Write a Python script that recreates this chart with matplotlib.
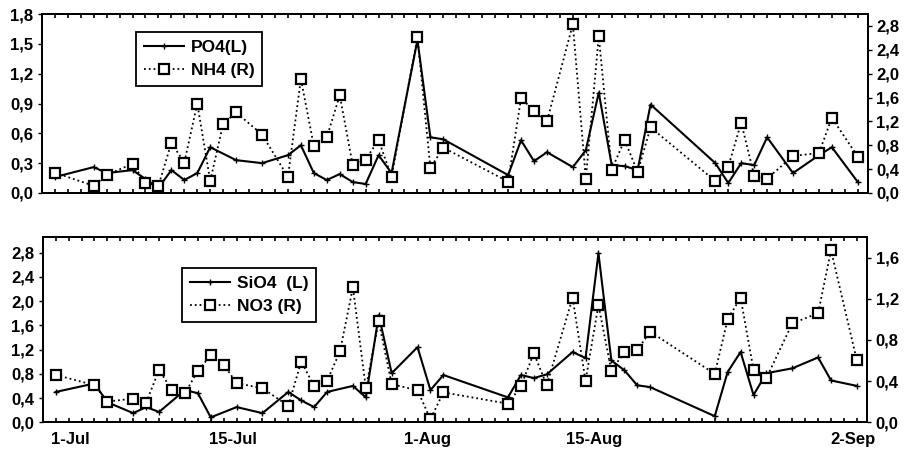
import numpy as np
import matplotlib.pyplot as plt
from matplotlib.ticker import FixedLocator, FuncFormatter

plt.rcParams['font.family'] = ['Liberation Sans', 'DejaVu Sans']
plt.rcParams['font.size'] = 12
plt.rcParams['font.weight'] = 'bold'

# x = sample index along the category axis
xlabels = ['1-Jul', '15-Jul', '1-Aug', '15-Aug', '2-Sep']
xlabel_pos = [2.1, 14.7, 29.8, 42.7, 62.7]

# top panel
po4_x = [1, 4, 5, 7, 8, 9, 10, 11, 12, 13, 15, 17, 19, 20, 21, 22, 23, 24, 25, 26, 27,
         29, 30, 31, 36, 37, 38, 39, 41, 42, 43, 44, 45, 46, 47, 52, 53, 54, 55, 56,
         58, 60, 61, 63]
po4 = [0.16, 0.26, 0.20, 0.23, 0.14, 0.05, 0.23, 0.13, 0.20, 0.46, 0.33, 0.30, 0.38,
       0.48, 0.20, 0.13, 0.19, 0.11, 0.09, 0.38, 0.20, 1.54, 0.56, 0.54, 0.18, 0.53,
       0.32, 0.41, 0.26, 0.43, 1.01, 0.28, 0.27, 0.23, 0.89, 0.30, 0.10, 0.30, 0.28,
       0.56, 0.20, 0.38, 0.46, 0.11]
nh4_x = [1, 4, 5, 7, 8, 9, 10, 11, 12, 13, 14, 15, 17, 19, 20, 21, 22, 23, 24, 25, 26,
         27, 29, 30, 31, 36, 37, 38, 39, 41, 42, 43, 44, 45, 46, 47, 52, 53, 54, 55, 56,
         58, 60, 61, 63]
nh4 = [0.34, 0.12, 0.30, 0.49, 0.17, 0.12, 0.84, 0.51, 1.50, 0.20, 1.16, 1.35, 0.98,
       0.27, 1.91, 0.79, 0.93, 1.64, 0.47, 0.56, 0.89, 0.27, 2.61, 0.42, 0.76, 0.19,
       1.59, 1.38, 1.20, 2.83, 0.24, 2.63, 0.39, 0.89, 0.35, 1.10, 0.20, 0.44, 1.18,
       0.29, 0.24, 0.62, 0.67, 1.26, 0.61]

# bottom panel
sio4_x = [1, 4, 5, 7, 8, 9, 11, 12, 13, 15, 17, 19, 20, 21, 22, 24, 25, 26, 27, 29, 30,
          31, 36, 37, 38, 39, 41, 42, 43, 44, 45, 46, 47, 52, 53, 54, 55, 56, 58, 60,
          61, 63]
sio4 = [0.50, 0.64, 0.33, 0.15, 0.25, 0.17, 0.53, 0.48, 0.08, 0.25, 0.15, 0.50, 0.36,
        0.25, 0.50, 0.60, 0.41, 1.77, 0.81, 1.24, 0.53, 0.78, 0.41, 0.78, 0.73, 0.79,
        1.16, 1.06, 2.79, 1.02, 0.86, 0.61, 0.58, 0.10, 0.83, 1.16, 0.45, 0.81, 0.89,
        1.07, 0.69, 0.60]
no3_x = [1, 4, 5, 7, 8, 9, 10, 11, 12, 13, 14, 15, 17, 19, 20, 21, 22, 23, 24, 25, 26,
         27, 29, 30, 31, 36, 37, 38, 39, 41, 42, 43, 44, 45, 46, 47, 52, 53, 54, 55, 56,
         58, 60, 61, 63]
no3 = [0.46, 0.36, 0.20, 0.23, 0.19, 0.51, 0.31, 0.28, 0.50, 0.65, 0.56, 0.38, 0.33,
       0.16, 0.59, 0.35, 0.40, 0.69, 1.31, 0.33, 0.98, 0.37, 0.31, 0.03, 0.29, 0.18,
       0.35, 0.67, 0.36, 1.21, 0.40, 1.14, 0.50, 0.68, 0.70, 0.88, 0.47, 1.00, 1.21,
       0.51, 0.43, 0.96, 1.06, 1.67, 0.60]


def comma(v, pos):
    return ('%.1f' % v).replace('.', ',')


def style(ax, ax2, lticks, rticks, show_x):
    ax.set_xlim(0, 63.8)
    ax.xaxis.set_minor_locator(FixedLocator(np.arange(1, 64)))
    ax.set_xticks(xlabel_pos)
    ax.set_xticklabels(xlabels if show_x else [])
    ax.tick_params(axis='x', which='both', direction='in', top=True, length=3,
                   width=1.2, pad=7)
    ax.tick_params(axis='x', which='major', length=0)
    ax.set_yticks(lticks)
    ax.yaxis.set_major_formatter(FuncFormatter(comma))
    ax.tick_params(axis='y', direction='out', length=3, width=1, pad=3)
    ax2.set_yticks(rticks)
    ax2.yaxis.set_major_formatter(FuncFormatter(comma))
    ax2.tick_params(axis='y', direction='out', length=3, width=1, pad=3)
    for a in (ax, ax2):
        for s in a.spines.values():
            s.set_linewidth(1.4)


leg_kw = dict(loc='upper left', frameon=True, fancybox=False, edgecolor='black',
              framealpha=1, handlelength=2.3, borderpad=0.45, labelspacing=0.45,
              borderaxespad=0, handletextpad=0.4, fontsize=12.5)

fig = plt.figure(figsize=(9.1, 4.54), dpi=100)

ax1 = fig.add_axes([0.046, 0.575, 0.908, 0.394])
ax1b = ax1.twinx()
l1, = ax1.plot(po4_x, po4, color='black', lw=1.5, marker='+', ms=4, mew=1,
               label='PO4(L)')
l2, = ax1b.plot(nh4_x, nh4, color='black', lw=1.3, ls=':', marker='s', ms=6.5,
                mfc='white', mec='black', mew=1.6, label='NH4 (R)')
ax1.set_ylim(0, 1.8)
ax1b.set_ylim(0, 3.0)
style(ax1, ax1b, np.arange(0, 1.81, 0.3), np.arange(0, 2.81, 0.4), False)
leg1 = ax1b.legend(handles=[l1, l2], bbox_to_anchor=(0.114, 0.899), **leg_kw)
leg1.get_frame().set_linewidth(1.3)

ax2 = fig.add_axes([0.047, 0.070, 0.906, 0.408])
ax2b = ax2.twinx()
l3, = ax2.plot(sio4_x, sio4, color='black', lw=1.5, marker='+', ms=4, mew=1,
               label='SiO4  (L)')
l4, = ax2b.plot(no3_x, no3, color='black', lw=1.3, ls=':', marker='s', ms=6.5,
                mfc='white', mec='black', mew=1.6, label='NO3 (R)')
ax2.set_ylim(0, 3.06)
ax2b.set_ylim(0, 1.8)
style(ax2, ax2b, np.arange(0, 2.81, 0.4), np.arange(0, 1.61, 0.4), True)
leg2 = ax2b.legend(handles=[l3, l4], bbox_to_anchor=(0.169, 0.832), **leg_kw)
leg2.get_frame().set_linewidth(1.3)

fig.savefig('out.png', dpi=100)
